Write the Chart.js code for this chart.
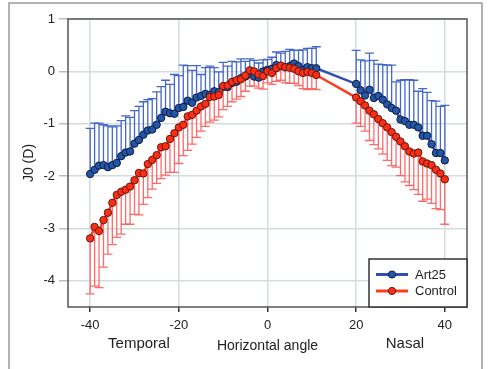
<!DOCTYPE html>
<html lang="en">
<head>
    <meta charset="UTF-8">
    <title>J0 vs horizontal angle</title>
    <script src="https://cdn.jsdelivr.net/npm/chart.js@4.4.3/dist/chart.umd.min.js"></script>
    <style>
        html, body { margin: 0; padding: 0; background: #ffffff; }
        #chartWrap { width: 488px; height: 369px; }
    </style>
</head>
<body>
    <div id="chartWrap">
        <canvas id="j0Chart" width="488" height="369"></canvas>
    </div>

    <script>
        // Horizontal angles (deg): temporal side -40..11, nasal side 20..40
        const angles = [
            -40, -39, -38, -37, -36, -35, -34, -33, -32, -31,
            -30, -29, -28, -27, -26, -25, -24, -23, -22, -21,
            -20, -19, -18, -17, -16, -15, -14, -13, -12, -11,
            -10, -9, -8, -7, -6, -5, -4, -3, -2, -1,
            0, 1, 2, 3, 4, 5, 6, 7, 8, 9, 10, 11,
            20, 21, 22, 23, 24, 25, 26, 27, 28, 29,
            30, 31, 32, 33, 34, 35, 36, 37, 38, 39, 40
        ];

        // Art25 mean J0 (D)
        const art25 = [
            -1.96, -1.88, -1.80, -1.79, -1.83, -1.79, -1.75, -1.62, -1.55, -1.53,
            -1.38, -1.31, -1.21, -1.13, -1.11, -1.02, -0.89, -0.77, -0.80, -0.81,
            -0.70, -0.68, -0.56, -0.60, -0.50, -0.47, -0.43, -0.45, -0.38, -0.40,
            -0.30, -0.30, -0.22, -0.20, -0.13, -0.10, -0.05, -0.10, -0.12, 0.00,
            0.03, 0.05, 0.12, 0.10, 0.08, 0.10, 0.15, 0.10, 0.03, 0.08, 0.06, 0.06,
            -0.24, -0.36, -0.46, -0.35, -0.51, -0.47, -0.54, -0.63, -0.70, -0.75,
            -0.92, -0.95, -1.02, -1.02, -1.07, -1.23, -1.23, -1.39, -1.56, -1.56, -1.70
        ];
        // Art25 SD (drawn upwards)
        const art25Err = [
            0.87, 0.89, 0.81, 0.77, 0.79, 0.73, 0.71, 0.68, 0.70, 0.65,
            0.63, 0.64, 0.63, 0.59, 0.59, 0.63, 0.60, 0.60, 0.55, 0.75,
            0.62, 0.80, 0.67, 0.62, 0.61, 0.41, 0.50, 0.55, 0.45, 0.39,
            0.47, 0.40, 0.41, 0.38, 0.37, 0.29, 0.29, 0.31, 0.28, 0.22,
            0.20, 0.22, 0.25, 0.25, 0.30, 0.32, 0.25, 0.30, 0.38, 0.36, 0.38, 0.41,
            0.64, 0.58, 0.66, 0.70, 0.72, 0.61, 0.67, 0.75, 0.82, 0.55,
            0.75, 0.79, 0.86, 0.85, 0.69, 0.90, 0.83, 0.83, 0.99, 0.89, 1.05
        ];

        // Control mean J0 (D)
        const control = [
            -3.19, -2.97, -3.05, -2.84, -2.70, -2.51, -2.36, -2.30, -2.26, -2.20,
            -2.08, -1.94, -1.95, -1.77, -1.69, -1.60, -1.45, -1.43, -1.29, -1.18,
            -1.07, -1.02, -0.86, -0.83, -0.75, -0.67, -0.62, -0.49, -0.48, -0.45,
            -0.28, -0.27, -0.20, -0.17, -0.15, -0.08, 0.02, 0.00, -0.06, -0.09,
            0.00, -0.03, 0.06, 0.11, 0.08, 0.07, 0.05, 0.00, -0.03, -0.01, -0.03, -0.07,
            -0.50, -0.57, -0.65, -0.75, -0.82, -0.91, -0.99, -1.07, -1.16, -1.25,
            -1.34, -1.43, -1.53, -1.57, -1.55, -1.72, -1.76, -1.79, -1.88, -1.95, -2.06
        ];
        // Control SD (drawn downwards)
        const controlErr = [
            1.06, 1.13, 1.08, 0.90, 0.79, 0.80, 0.81, 0.81, 0.66, 0.72,
            0.65, 0.80, 0.59, 0.64, 0.56, 0.54, 0.60, 0.55, 0.64, 0.75,
            0.69, 0.59, 0.65, 0.56, 0.51, 0.47, 0.43, 0.48, 0.45, 0.42,
            0.45, 0.40, 0.38, 0.36, 0.33, 0.30, 0.30, 0.28, 0.26, 0.25,
            0.22, 0.22, 0.25, 0.28, 0.30, 0.30, 0.28, 0.27, 0.30, 0.34, 0.30, 0.28,
            0.49, 0.48, 0.49, 0.57, 0.58, 0.57, 0.59, 0.63, 0.64, 0.58,
            0.65, 0.68, 0.65, 0.69, 0.80, 0.76, 0.68, 0.73, 0.74, 0.69, 0.86
        ];

        const xTicks = [-40, -20, 0, 20, 40];
        const yTicks = [1, 0, -1, -2, -3, -4];
        const sideLabels = ['Temporal', 'Nasal'];

        const FONT = "'Liberation Sans', Arial, sans-serif";

        const toPoints = (ys) => angles.map((a, i) => ({ x: a, y: ys[i] }));

        // Outer frame around the figure
        const framePlugin = {
            id: 'frame',
            beforeDraw(chart) {
                const c = chart.ctx;
                c.save();
                c.fillStyle = '#ffffff';
                c.fillRect(0, 0, chart.width, chart.height);
                c.strokeStyle = '#9a9a9a';
                c.lineWidth = 1.5;
                c.strokeRect(9, 3, 473, chart.height + 10);
                c.restore();
            }
        };

        // Vertical one-sided error bars, drawn under the lines and markers
        const errorBarPlugin = {
            id: 'errorBars',
            beforeDatasetsDraw(chart) {
                const c = chart.ctx;
                const xs = chart.scales.x;
                const ys = chart.scales.y;
                c.save();
                chart.data.datasets.forEach((ds) => {
                    c.strokeStyle = ds.errColor;
                    c.lineWidth = 1.3;
                    ds.data.forEach((p, i) => {
                        const px = xs.getPixelForValue(p.x);
                        const y0 = ys.getPixelForValue(p.y);
                        const y1 = ys.getPixelForValue(p.y + ds.errDir * ds.err[i]);
                        c.beginPath();
                        c.moveTo(px, y0);
                        c.lineTo(px, y1);
                        c.moveTo(px - 4.5, y1);
                        c.lineTo(px + 4.5, y1);
                        c.stroke();
                    });
                });
                c.restore();
            }
        };

        // Plot border, side labels and the boxed legend
        const decorPlugin = {
            id: 'decor',
            afterDraw(chart) {
                const c = chart.ctx;
                const a = chart.chartArea;
                const xs = chart.scales.x;
                c.save();
                c.strokeStyle = '#555555';
                c.lineWidth = 1.5;
                c.strokeRect(a.left, a.top, a.right - a.left, a.bottom - a.top);

                c.fillStyle = '#222222';
                c.font = '15px ' + FONT;
                c.textAlign = 'center';
                c.textBaseline = 'middle';
                c.fillText(sideLabels[0], xs.getPixelForValue(-29), 344);
                c.fillText(sideLabels[1], xs.getPixelForValue(31), 344);

                // legend box
                const w = 98, h = 48;
                const lx = a.right - w, ly = a.bottom - h;
                c.fillStyle = '#ffffff';
                c.fillRect(lx, ly, w, h);
                c.strokeStyle = '#333333';
                c.lineWidth = 1.5;
                c.strokeRect(lx, ly, w, h);

                chart.data.datasets.slice().reverse().forEach((ds, k) => {
                    const yy = ly + 15.5 + k * 16.5;
                    c.strokeStyle = ds.borderColor;
                    c.lineWidth = 3;
                    c.beginPath();
                    c.moveTo(lx + 7, yy);
                    c.lineTo(lx + 39, yy);
                    c.stroke();
                    c.beginPath();
                    c.arc(lx + 23, yy, 3.6, 0, Math.PI * 2);
                    c.fillStyle = ds.pointBackgroundColor;
                    c.fill();
                    c.lineWidth = 1;
                    c.strokeStyle = ds.pointBorderColor;
                    c.stroke();
                    c.fillStyle = '#222222';
                    c.font = '13px ' + FONT;
                    c.textAlign = 'left';
                    c.fillText(ds.label, lx + 46, yy + 0.5);
                });
                c.restore();
            }
        };

        document.addEventListener('DOMContentLoaded', () => {
            const ctx = document.getElementById('j0Chart').getContext('2d');

            new Chart(ctx, {
                type: 'line',
                data: {
                    datasets: [
                        {
                            label: 'Control',
                            data: toPoints(control),
                            err: controlErr,
                            errDir: -1,
                            errColor: 'rgba(255, 90, 90, 0.9)',
                            borderColor: '#ff3b1f',
                            borderWidth: 2.5,
                            pointBackgroundColor: '#ff2d14',
                            pointBorderColor: '#5c1a10',
                            pointBorderWidth: 1,
                            pointRadius: 3.7,
                            order: 0
                        },
                        {
                            label: 'Art25',
                            data: toPoints(art25),
                            err: art25Err,
                            errDir: 1,
                            errColor: 'rgba(60, 96, 196, 0.95)',
                            borderColor: '#2f4fb5',
                            borderWidth: 2.5,
                            pointBackgroundColor: '#2356a8',
                            pointBorderColor: '#0e1c3c',
                            pointBorderWidth: 1,
                            pointRadius: 3.7,
                            order: 1
                        }
                    ]
                },
                options: {
                    responsive: false,
                    animation: false,
                    devicePixelRatio: 1,
                    layout: { padding: { top: 19, right: 21, left: 0, bottom: 0 } },
                    plugins: {
                        legend: { display: false },
                        tooltip: { enabled: false }
                    },
                    scales: {
                        x: {
                            type: 'linear',
                            min: -45,
                            max: 45,
                            afterBuildTicks: (axis) => { axis.ticks = xTicks.map(v => ({ value: v })); },
                            afterFit: (axis) => { axis.height = 62; },
                            border: { display: false },
                            grid: { color: '#d4dbdb', lineWidth: 1.5, tickColor: '#333333', tickLength: 5 },
                            ticks: { color: '#222222', padding: 6, font: { family: FONT, size: 13 } },
                            title: {
                                display: true,
                                text: 'Horizontal angle',
                                color: '#222222',
                                font: { family: FONT, size: 14 },
                                padding: { top: 0, bottom: 14 }
                            }
                        },
                        y: {
                            min: -4.5,
                            max: 1,
                            afterBuildTicks: (axis) => { axis.ticks = yTicks.map(v => ({ value: v })); },
                            afterFit: (axis) => { axis.width = 68; },
                            border: { display: false },
                            grid: { color: '#d4dbdb', lineWidth: 1.5, tickColor: '#b8bebe', tickLength: 9 },
                            ticks: { color: '#222222', padding: 4, font: { family: FONT, size: 13 } },
                            title: {
                                display: true,
                                text: 'J0 (D)',
                                color: '#222222',
                                font: { family: FONT, size: 14 },
                                padding: { top: 21, bottom: 0 }
                            }
                        }
                    }
                },
                plugins: [framePlugin, errorBarPlugin, decorPlugin]
            });
        });
    </script>
</body>
</html>
